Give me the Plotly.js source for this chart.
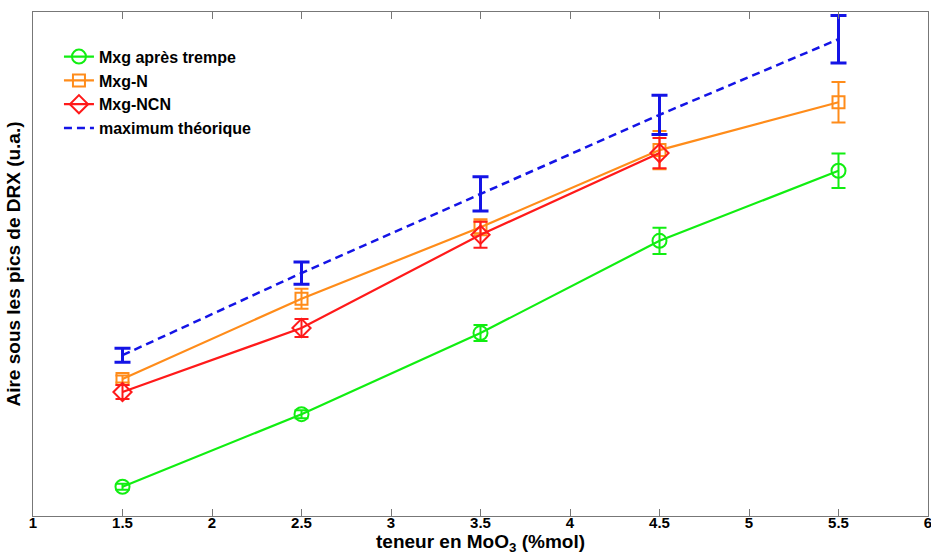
<!DOCTYPE html>
<html>
<head>
<meta charset="utf-8">
<script src="https://cdn.plot.ly/plotly-3.0.1.min.js"></script>
<style>html,body{margin:0;padding:0;background:#fff;}#chart{width:931px;height:555px;}</style>
</head>
<body>
<div id="chart"></div>
<script>
// Data (arbitrary units)
const xTeneur = [1.5, 2.5, 3.5, 4.5, 5.5];
const xTeneurNCN = [1.5, 2.5, 3.5, 4.5];

const trempeVals = [5.8, 20.2, 36.3, 54.6, 68.5];
const trempeErr  = [0.6, 0.8, 1.6, 2.6, 3.4];

const nVals = [27.2, 43.1, 57.3, 72.6, 82.1];
const nErr  = [0.7, 2.0, 1.6, 3.8, 4.0];

const ncnVals = [24.6, 37.3, 55.8, 72.0];
const ncnErr  = [1.4, 1.8, 2.6, 3.0];

const maxVals = [31.9, 48.2, 63.9, 79.6, 94.6];
const maxErr  = [1.4, 2.2, 3.4, 3.9, 4.7];

const seriesNames = ["Mxg après trempe", "Mxg-N", "Mxg-NCN", "maximum théorique"];
const xTicks = [1, 1.5, 2, 2.5, 3, 3.5, 4, 4.5, 5, 5.5, 6];

const GREEN = "#11ee11", ORANGE = "#ff8c1a", RED = "#ff1a1a", BLUE = "#1414e6";

const traces = [
  {x: xTeneur, y: trempeVals, name: seriesNames[0], mode: "lines+markers",
   line: {color: GREEN, width: 2.2}, marker: {symbol: "circle-open", size: 14, color: GREEN, line: {width: 2}},
   error_y: {type: "data", array: trempeErr, color: GREEN, thickness: 2, width: 7}},
  {x: xTeneur, y: nVals, name: seriesNames[1], mode: "lines+markers",
   line: {color: ORANGE, width: 2.2}, marker: {symbol: "square-open", size: 12, color: ORANGE, line: {width: 2}},
   error_y: {type: "data", array: nErr, color: ORANGE, thickness: 2, width: 7}},
  {x: xTeneurNCN, y: ncnVals, name: seriesNames[2], mode: "lines+markers",
   line: {color: RED, width: 2.2}, marker: {symbol: "diamond-open", size: 14, color: RED, line: {width: 2}},
   error_y: {type: "data", array: ncnErr, color: RED, thickness: 2, width: 7}},
  {x: xTeneur, y: maxVals, name: seriesNames[3], mode: "lines",
   line: {color: BLUE, width: 2.5, dash: "8px,5px"},
   error_y: {type: "data", array: maxErr, color: BLUE, thickness: 3, width: 8}}
];

const layout = {
  width: 931, height: 555,
  margin: {l: 33, r: 3, t: 12, b: 39},
  paper_bgcolor: "#fff", plot_bgcolor: "#fff",
  showlegend: true,
  legend: {x: 0.029, y: 0.945, xanchor: "left", yanchor: "top", bgcolor: "rgba(0,0,0,0)",
           font: {family: "Liberation Sans, Arial, sans-serif", size: 16, color: "#000", weight: "bold"},
           itemwidth: 30},
  xaxis: {
    range: [1, 6], tickvals: xTicks, ticktext: xTicks.map(String),
    showgrid: false, zeroline: false, showline: true, linecolor: "#777", linewidth: 1, mirror: "ticks",
    ticks: "inside", ticklen: 7, tickcolor: "#777", ticklabeloverflow: "allow", ticklabelstandoff: -7,
    tickfont: {family: "Liberation Sans Narrow, Arial Narrow, Liberation Sans, sans-serif", size: 15, color: "#000", weight: "bold"},
    title: {text: "teneur en MoO<sub>3</sub> (%mol)", standoff: 0,
            font: {family: "Liberation Sans, Arial, sans-serif", size: 19, color: "#000", weight: "bold"}},
    automargin: false
  },
  yaxis: {
    range: [0, 100], showticklabels: false, ticks: "",
    showgrid: false, zeroline: false, showline: true, linecolor: "#777", linewidth: 1, mirror: true,
    title: {text: "Aire sous les pics de DRX (u.a.)", standoff: 6,
            font: {family: "Liberation Sans, Arial, sans-serif", size: 19, color: "#000", weight: "bold"}},
    automargin: false
  }
};

Plotly.newPlot("chart", traces, layout, {displayModeBar: false, staticPlot: true});
</script>
</body>
</html>
